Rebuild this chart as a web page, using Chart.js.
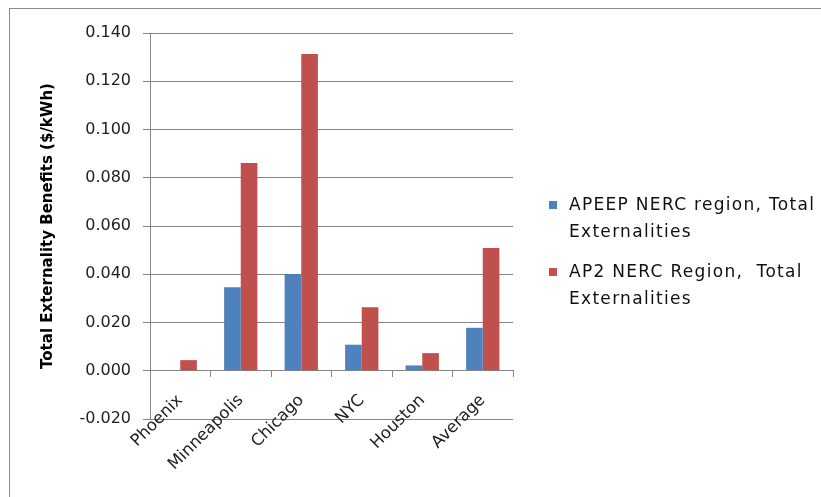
<!DOCTYPE html>
<html>
<head>
<meta charset="utf-8">
<script src="https://cdn.jsdelivr.net/npm/chart.js@4"></script>
<style>
  html, body { margin: 0; background: #fff; overflow: hidden; width: 821px; height: 497px; }
  .frame-top { position: absolute; left: 9px; top: 8px; width: 812px; height: 1px; background: #8c8c8c; }
  .frame-left { position: absolute; left: 9px; top: 8px; width: 1px; height: 489px; background: #8c8c8c; }
  .wrap { position: absolute; left: 0; top: 0; width: 821px; height: 497px; }
  .legend { position: absolute; left: 549px; top: 191px; font-family: "DejaVu Sans", sans-serif; font-size: 17px; letter-spacing: 1.3px; color: #111; }
  .legend-item { position: relative; padding-left: 20px; line-height: 27px; margin-bottom: 13px; }
  .legend-box { position: absolute; left: 0; top: 10px; width: 8px; height: 8px; }
</style>
</head>
<body>
<div class="frame-top"></div>
<div class="frame-left"></div>
<div class="wrap"><canvas id="chart" width="821" height="497"></canvas></div>
<div class="legend" id="legend"></div>
<script>
const cities = ['Phoenix', 'Minneapolis', 'Chicago', 'NYC', 'Houston', 'Average'];
const apeepValues = [0.000, 0.0346, 0.0401, 0.0108, 0.0022, 0.0178];
const ap2Values = [0.0044, 0.0861, 0.1313, 0.0263, 0.0073, 0.0509];
const seriesNames = ['APEEP NERC region, Total Externalities', 'AP2 NERC Region,  Total Externalities'];
const seriesLegendLines = [['APEEP NERC region, Total', 'Externalities'], ['AP2 NERC Region,\u00a0 Total', 'Externalities']];
const colors = ['#4f81bd', '#c0504d'];

const axisGray = '#868686';
const tickFont = { family: 'DejaVu Sans', size: 16 };

// legend as html so the labels can wrap like the original
const legendEl = document.getElementById('legend');
seriesLegendLines.forEach((lines, i) => {
  const item = document.createElement('div');
  item.className = 'legend-item';
  item.innerHTML = `<span class="legend-box" style="background:${colors[i]}"></span>${lines.join('<br>')}`;
  legendEl.appendChild(item);
});

new Chart(document.getElementById('chart'), {
  type: 'bar',
  data: {
    labels: cities,
    datasets: [
      { label: seriesNames[0], data: apeepValues, backgroundColor: colors[0] },
      { label: seriesNames[1], data: ap2Values, backgroundColor: colors[1] },
    ]
  },
  options: {
    responsive: false,
    animation: false,
    layout: { padding: { left: 0, top: 33, right: 308, bottom: 78 } },
    datasets: { bar: { barPercentage: 1, categoryPercentage: 0.55 } },
    plugins: {
      legend: { display: false },
      tooltip: { enabled: false },
    },
    scales: {
      x: {
        position: { y: 0 },
        grid: { drawOnChartArea: false, drawTicks: true, tickLength: 6, color: axisGray, offset: true },
        border: { color: axisGray },
        ticks: { color: '#222', font: { family: 'DejaVu Sans', size: 16.5 }, minRotation: 45, maxRotation: 45, padding: 14 },
      },
      y: {
        min: -0.02,
        max: 0.14,
        afterFit: scale => { scale.width = 150; },
        grid: { color: axisGray, tickLength: 7 },
        border: { color: axisGray },
        ticks: { stepSize: 0.02, color: '#222', font: tickFont, padding: 12, callback: v => v.toFixed(3) },
        title: {
          display: true,
          text: 'Total Externality Benefits ($/kWh)',
          color: '#000',
          font: { family: 'DejaVu Sans', size: 15, weight: 'bold' },
          padding: { top: 39, bottom: 0 },
        },
      },
    },
  },
});
</script>
</body>
</html>
